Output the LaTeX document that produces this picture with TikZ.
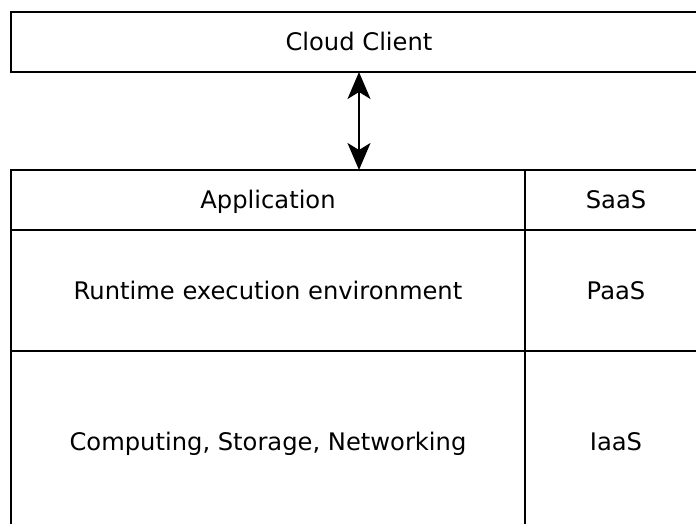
\documentclass[tikz,border=0pt]{standalone}
\usepackage{fontspec}
\setmainfont{DejaVu Sans}
\usetikzlibrary{positioning, arrows.meta}
\tikzset{
    cell/.style={draw, line width=2.8pt, outer sep=0pt, inner sep=0pt, align=center, text height=17.6pt, text depth=0pt, font=\fontsize{24.2}{28}\selectfont},
    widecell/.style={cell, minimum width=514pt},
    tagcell/.style={cell, minimum width=182pt},
    arrow/.style={{Stealth[length=27pt,width=23pt,inset=7pt]}-{Stealth[length=27pt,width=23pt,inset=7pt]}, line width=2.2pt}
}
\begin{document}
\begin{tikzpicture}[x=1pt, y=-1pt]
    \clip (0,0) rectangle (696,524);
    \fill[white] (0,0) rectangle (696,524);

    % Client on top
    \node[cell, minimum width=696pt, minimum height=60pt, anchor=north west] (client) at (11,12) {Cloud Client};

    % Service layers
    \node[widecell, minimum height=60pt, anchor=north west] (app) at (11,170) {Application};
    \node[tagcell, minimum height=60pt, right=0pt of app] (saas) {SaaS};

    \node[widecell, minimum height=121pt, below=0pt of app] (runtime) {Runtime execution environment};
    \node[tagcell, minimum height=121pt, right=0pt of runtime] (paas) {PaaS};

    \node[widecell, minimum height=182pt, below=0pt of runtime] (infra) {Computing, Storage, Networking};
    \node[tagcell, minimum height=182pt, right=0pt of infra] (iaas) {IaaS};

    \draw[arrow] (client.south) -- (client.south |- app.north);
\end{tikzpicture}
\end{document}
